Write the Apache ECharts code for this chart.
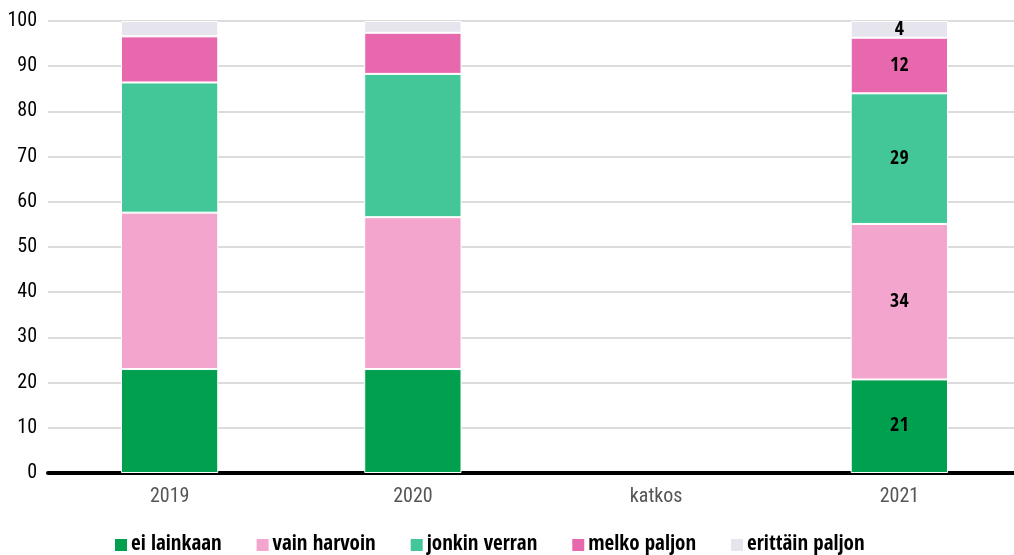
<!DOCTYPE html>
<html><head><meta charset="utf-8">
<script src="https://cdn.jsdelivr.net/npm/echarts@6/dist/echarts.min.js"></script>
<style>html,body{margin:0;padding:0;background:#fff}#c{width:1014px;height:555px}</style>
</head><body><div id="c"></div>
<script>
const categories = ['2019', '2020', 'katkos', '2021'];
const seriesNames = ['ei lainkaan', 'vain harvoin', 'jonkin verran', 'melko paljon', 'erittäin paljon'];
const eiLainkaan = [23.0, 23.0, null, 20.7];
const vainHarvoin = [34.6, 33.6, null, 34.4];
const jonkinVerran = [28.8, 31.7, null, 28.9];
const melkoPaljon = [10.2, 9.1, null, 12.3];
const erittainPaljon = [3.4, 2.6, null, 3.7];
const yTicks = [0, 10, 20, 30, 40, 50, 60, 70, 80, 90, 100];
const labelledCategory = '2021';

const colors = ['#00a04f', '#f4a5cd', '#43c799', '#e868ad', '#e6e4ec'];
const values = [eiLainkaan, vainHarvoin, jonkinVerran, melkoPaljon, erittainPaljon];
const FONT = '"Roboto Condensed", "Open Sans Condensed", sans-serif';
const BOLD = '"Open Sans Condensed", "Roboto Condensed", sans-serif';

const chart = echarts.init(document.getElementById('c'), null, {renderer: 'canvas'});
chart.setOption({
  animation: false,
  textStyle: {fontFamily: FONT},
  grid: {left: 48, width: 973, top: 21, bottom: 82, containLabel: false, outerBoundsMode: 'none'},
  legend: {
    top: 533, left: 113, padding: 0,
    icon: 'rect', itemWidth: 14, itemHeight: 14, itemGap: 33,
    textStyle: {fontFamily: BOLD, fontWeight: 'bold', fontSize: 21, color: '#000', lineHeight: 24, padding: [0, 0, 0, -2]},
    data: seriesNames
  },
  xAxis: {
    type: 'category', data: categories,
    axisLine: {show: true, lineStyle: {color: '#000', width: 4}},
    axisTick: {show: false},
    axisLabel: {color: '#555', fontSize: 20, margin: 14, fontFamily: FONT}
  },
  yAxis: {
    type: 'value', min: 0, max: 100, interval: 10,
    axisLine: {show: false}, axisTick: {show: false},
    splitLine: {lineStyle: {color: '#dcdcdc', width: 2}},
    axisLabel: {color: '#000', fontSize: 20, margin: 11, fontFamily: FONT,
      formatter: v => yTicks.includes(v) ? String(v) : ''}
  },
  series: seriesNames.map((name, i) => ({
    name, type: 'bar', stack: 'total', barWidth: '40%',
    itemStyle: {color: colors[i], borderColor: '#fff', borderWidth: 1},
    label: {
      show: true, position: 'inside', color: '#000', fontWeight: 'bold', fontSize: 20, fontFamily: BOLD,
      formatter: p => (p.name === labelledCategory && p.value != null) ? String(Math.round(p.value)) : ''
    },
    data: values[i].map(v => v == null ? '-' : v)
  }))
});
</script></body></html>
